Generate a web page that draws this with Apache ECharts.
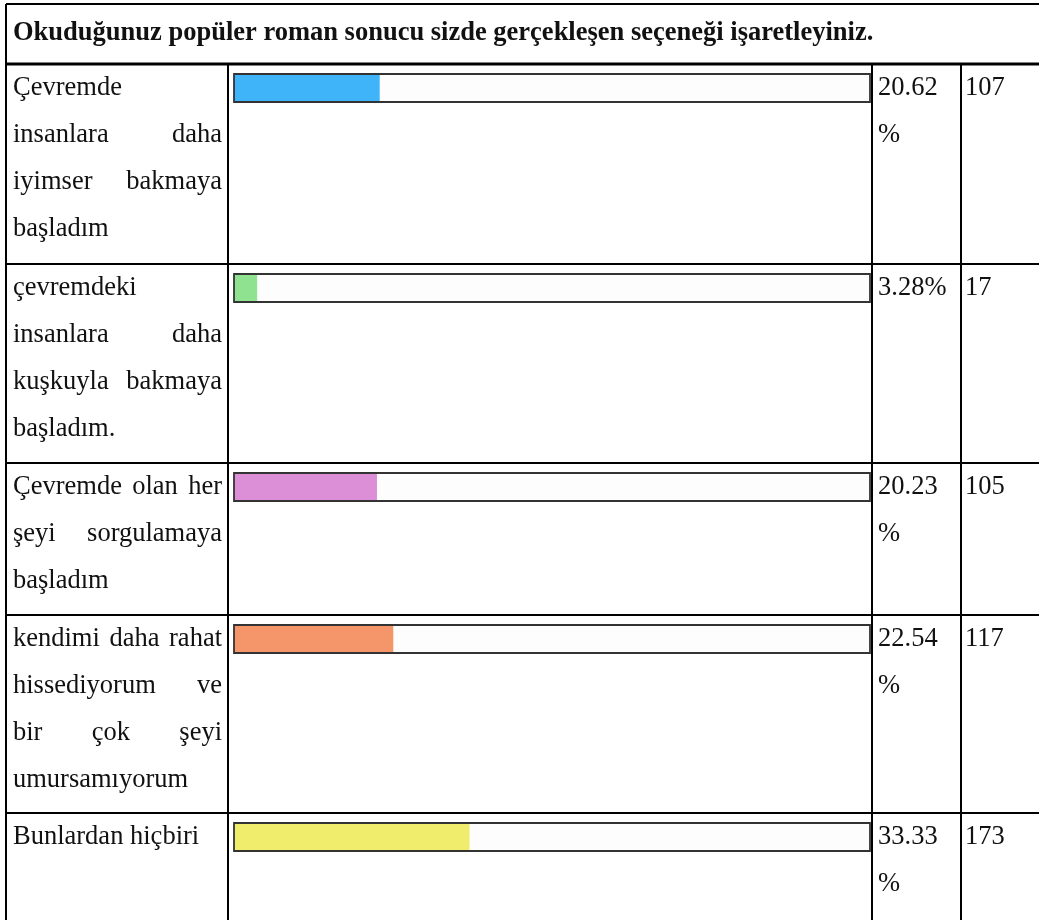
<!DOCTYPE html>
<html>
<head>
<meta charset="utf-8">
<script src="https://cdn.jsdelivr.net/npm/echarts@6/dist/echarts.min.js"></script>
<style>
  html, body { margin: 0; padding: 0; background: #ffffff; }
  #chart { width: 1039px; height: 920px; }
</style>
</head>
<body>
<div id="chart"></div>
<script>
// Survey question and answer options (each option is split into its printed lines)
const title = "Okuduğunuz popüler roman sonucu sizde gerçekleşen seçeneği işaretleyiniz.";
const categories = [
  ["Çevremde", "insanlara daha", "iyimser bakmaya", "başladım"],
  ["çevremdeki", "insanlara daha", "kuşkuyla bakmaya", "başladım."],
  ["Çevremde olan her", "şeyi sorgulamaya", "başladım"],
  ["kendimi daha rahat", "hissediyorum ve", "bir çok şeyi", "umursamıyorum"],
  ["Bunlardan hiçbiri"]
];
// Share of answers (%) and number of respondents per option
const percents = [20.62, 3.28, 20.23, 22.54, 33.33];
const percentLabels = [["20.62", "%"], ["3.28%"], ["20.23", "%"], ["22.54", "%"], ["33.33", "%"]];
const counts = [107, 17, 105, 117, 173];
const barColors = ["#40b4f9", "#8fe28f", "#dc8ed7", "#f4956a", "#f0ec6c"];
const axisMax = 90;

// ---- table layout ----
const W = 1039, H = 920;
const tableLeft = 6, tableTop = 4, headerBottom = 64;
const rowTops = [64, 264, 463, 615, 813];
const colLabelRight = 228, colPct = 872, colCount = 961;
const barLeft = 234, barRight = 870, barOffset = 10, barHeight = 28;
const fontFamily = '"Liberation Serif", "Times New Roman", serif';
const fontSize = 26.5;
const lineGap = 47, firstLine = 24.5;
const textColor = '#111111';

const measureCtx = document.createElement('canvas').getContext('2d');
function textWidth(s, weight) {
  measureCtx.font = (weight || 'normal') + ' ' + fontSize + 'px ' + fontFamily;
  return measureCtx.measureText(s).width;
}
function textEl(text, x, y, weight) {
  return {
    type: 'text', x: x, y: y, silent: true, z: 20,
    style: {
      text: text, fill: textColor, font: (weight || 'normal') + ' ' + fontSize + 'px ' + fontFamily,
      textAlign: 'left', textVerticalAlign: 'middle'
    }
  };
}
function lineEl(x1, y1, x2, y2, w) {
  return {
    type: 'line', silent: true, z: 30,
    shape: { x1: x1, y1: y1, x2: x2, y2: y2 },
    style: { stroke: '#000000', lineWidth: w }
  };
}

const graphics = [];
// header
graphics.push(textEl(title, 13, 33, 'bold'));

// label column: justified lines (all but the last line of each option)
const labelX = 13, labelW = 209;
categories.forEach(function (lines, r) {
  lines.forEach(function (line, li) {
    const y = rowTops[r] + firstLine + li * lineGap;
    const words = line.split(' ');
    const justify = li < lines.length - 1 && words.length > 1;
    if (!justify) {
      graphics.push(textEl(line, labelX, y));
      return;
    }
    const total = words.reduce(function (a, w) { return a + textWidth(w); }, 0);
    const gap = (labelW - total) / (words.length - 1);
    let x = labelX;
    words.forEach(function (w) {
      graphics.push(textEl(w, x, y));
      x += textWidth(w) + gap;
    });
  });
  // percent and count columns
  percentLabels[r].forEach(function (t, li) {
    graphics.push(textEl(t, colPct + 6, rowTops[r] + firstLine + li * lineGap));
  });
  graphics.push(textEl(String(counts[r]), colCount + 4, rowTops[r] + firstLine));
  // frame around each bar track
  graphics.push({
    type: 'rect', silent: true, z: 25,
    shape: { x: barLeft, y: rowTops[r] + barOffset, width: barRight - barLeft, height: barHeight },
    style: { fill: null, stroke: '#333333', lineWidth: 1.8 }
  });
});

// table rules
graphics.push(lineEl(tableLeft, tableTop, W, tableTop, 2));
graphics.push(lineEl(tableLeft, headerBottom, W, headerBottom, 3));
rowTops.slice(1).forEach(function (y) { graphics.push(lineEl(tableLeft, y, W, y, 2)); });
graphics.push(lineEl(tableLeft, tableTop, tableLeft, H, 2));
[colLabelRight, colPct, colCount].forEach(function (x) {
  graphics.push(lineEl(x, headerBottom, x, H, 2));
});

// one grid per table row so each bar sits inside its own cell
const grids = [], xAxes = [], yAxes = [], series = [];
percents.forEach(function (v, i) {
  grids.push({ left: barLeft, top: rowTops[i] + barOffset, width: barRight - barLeft, height: barHeight, containLabel: false });
  xAxes.push({ type: 'value', gridIndex: i, min: 0, max: axisMax, show: false });
  yAxes.push({ type: 'category', gridIndex: i, data: [categories[i].join(' ')], show: false });
  series.push({
    type: 'bar', xAxisIndex: i, yAxisIndex: i, data: [v], barWidth: barHeight,
    showBackground: true,
    backgroundStyle: { color: '#fdfdfd' },
    itemStyle: { color: barColors[i] },
    silent: true
  });
});

const chart = echarts.init(document.getElementById('chart'), null, { renderer: 'canvas' });
chart.setOption({
  animation: false,
  backgroundColor: '#ffffff',
  grid: grids,
  xAxis: xAxes,
  yAxis: yAxes,
  series: series,
  graphic: { elements: graphics }
});
</script>
</body>
</html>
